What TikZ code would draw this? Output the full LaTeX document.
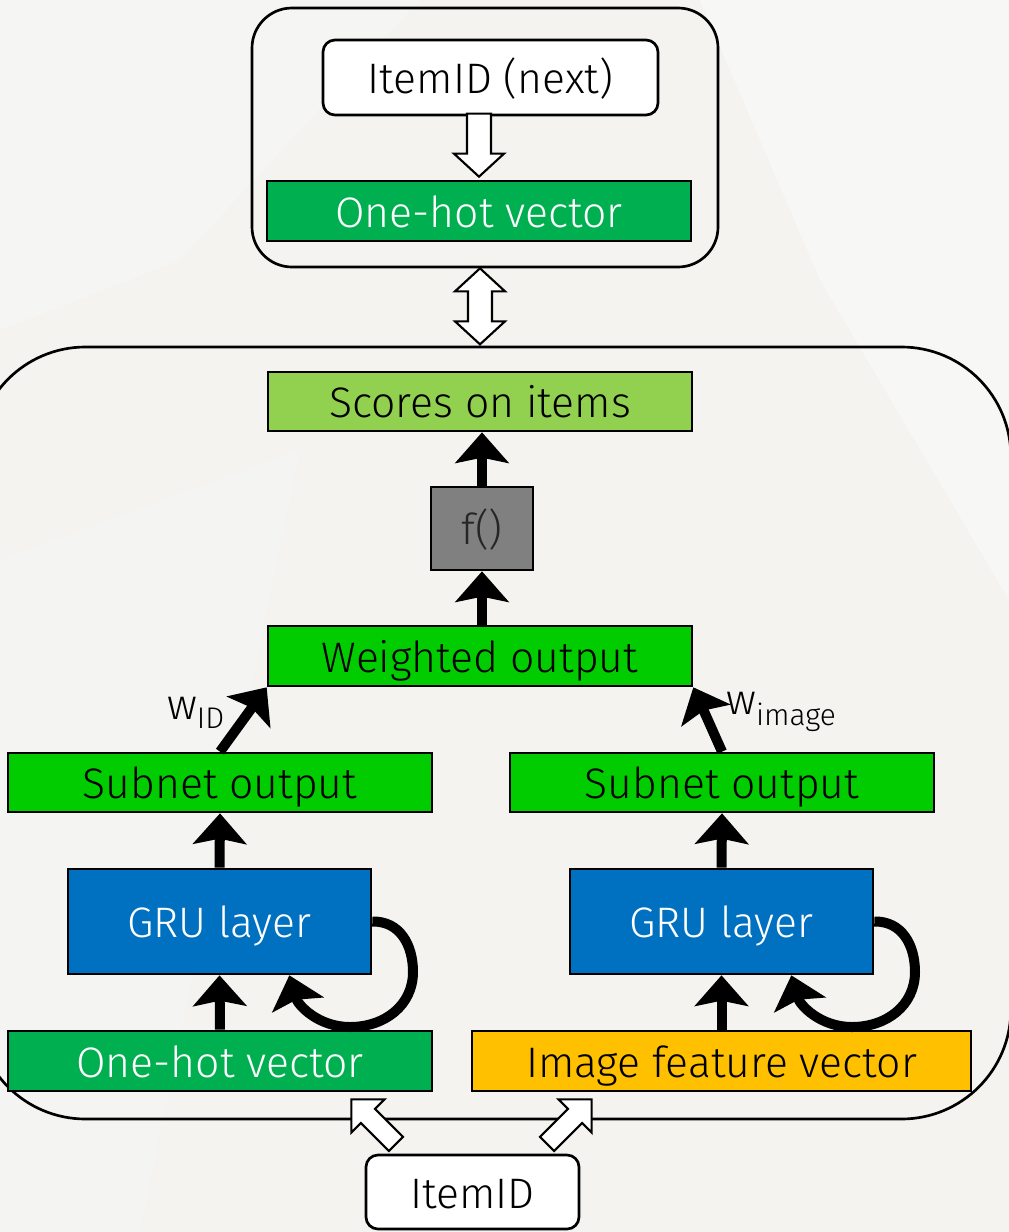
\documentclass[tikz,border=0pt]{standalone}
\usepackage{fontspec}
\setmainfont{Fira Sans Light}
\usetikzlibrary{arrows.meta,calc}
\definecolor{bgc}{RGB}{244,243,240}
\definecolor{ohgreen}{RGB}{0,176,80}
\definecolor{lgreen}{RGB}{146,208,80}
\definecolor{bgreen}{RGB}{0,204,0}
\definecolor{grublue}{RGB}{0,112,192}
\definecolor{imgyellow}{RGB}{255,192,0}
\definecolor{fgray}{RGB}{128,128,128}
\tikzset{
  box/.style={draw=black, line width=2pt, inner sep=0pt, text height=26pt, text depth=2pt, font=\fontsize{32}{38}\selectfont},
  rbox/.style={box, fill=white, rounded corners=9pt},
  wide/.style={minimum width=318pt, minimum height=45pt},
  flow/.style={line width=7.5pt, -{Stealth[length=23pt, width=40pt, inset=4pt]}},
  hollowline/.style={draw=black, fill=white, line width=1.6pt, line join=miter},
  lbl/.style={inner sep=0pt, font=\fontsize{32}{38}\selectfont},
  single hollow/.pic={\path[hollowline] (0,0) -- (-23,-25) -- (-23,-12) -- (-63,-12) -- (-63,12) -- (-23,12) -- (-23,25) -- cycle;},
  double hollow/.pic={\path[hollowline] (0,0) -- (23,-25) -- (23,-12) -- (53,-12) -- (53,-25) -- (76,0) -- (53,25) -- (53,12) -- (23,12) -- (23,25) -- cycle;},
  diag hollow/.pic={\path[hollowline] (0,0) -- (-23.5,-23.5) -- (-23.5,-10) -- (-63,-10) -- (-63,10) -- (-23.5,10) -- (-23.5,23.5) -- cycle;}
}
\begin{document}
\begin{tikzpicture}[x=0.75pt, y=-0.75pt]
\useasboundingbox (0,0) rectangle (1009,1232);
\fill[bgc] (0,0) rectangle (1009,1232);
\fill[black!3, opacity=0.6] (0,0) -- (420,0) -- (180,260) -- (0,330) -- cycle;
\fill[black!4, opacity=0.5] (0,560) -- (300,450) -- (140,1232) -- (0,1232) -- cycle;
\fill[white, opacity=0.35] (700,0) -- (1009,0) -- (1009,600) -- (820,280) -- cycle;

% containers
\node[draw=black, line width=2pt, rounded corners=82pt, minimum width=776pt, minimum height=579pt, inner sep=0pt] (outer) at (493.5,733) {};
\node[draw=black, line width=2pt, rounded corners=30pt, minimum width=349.5pt, minimum height=194.25pt, inner sep=0pt] (topbox) at (485,137.5) {};

% nodes
\node[rbox, minimum width=251.25pt, minimum height=56.25pt] (itemnext) at (490.5,77.5) {ItemID (next)};
\node[box, wide, fill=ohgreen, text=white] (onetop) at (479,211) {One-hot vector};
\node[box, wide, minimum height=44.25pt, fill=lgreen] (scores) at (480,401.5) {Scores on items};
\node[box, minimum width=76.5pt, minimum height=62.25pt, fill=fgray, text=black!85] (fx) at (482,528.5) {f()};
\node[box, wide, fill=bgreen] (weighted) at (480,656) {Weighted output};
\node[box, wide, minimum height=44.25pt, fill=bgreen] (subL) at (220,782.5) {Subnet output};
\node[box, wide, minimum height=44.25pt, fill=bgreen] (subR) at (722,782.5) {Subnet output};
\node[box, minimum width=227.25pt, minimum height=78.75pt, fill=grublue, text=white] (gruL) at (219.5,921.5) {GRU layer};
\node[box, minimum width=227.25pt, minimum height=78.75pt, fill=grublue, text=white] (gruR) at (721.5,921.5) {GRU layer};
\node[box, wide, fill=ohgreen, text=white] (ohL) at (220,1061) {One-hot vector};
\node[box, minimum width=374.25pt, minimum height=45pt, fill=imgyellow] (img) at (721.5,1061) {Image feature vector};
\node[rbox, minimum width=159.75pt, minimum height=55.5pt] (item) at (472.5,1192) {ItemID};

% hollow arrows
\pic[rotate=-90] at ($(onetop.north)+(0,-3)$) {single hollow};
\pic[rotate=-90] at ($(topbox.south)+(-5,0)$) {double hollow};
\pic[rotate=135] at ($(ohL.south east)+(-82,7)$) {diag hollow};
\pic[rotate=45] at ($(img.south west)+(121,7)$) {diag hollow};

% flow arrows
\draw[flow] (fx.north) -- (fx.north |- scores.south);
\draw[flow] (fx.south |- weighted.north) -- (fx.south);
\draw[flow] (subL.north) -- (weighted.south west);
\draw[flow] (subR.north) -- (weighted.south east);
\draw[flow] (gruL.north) -- (subL.south);
\draw[flow] (gruR.north) -- (subR.south);
\draw[flow] (ohL.north) -- (gruL.south);
\draw[flow] (img.north -| gruR.south) -- (gruR.south);

% recurrent loops
\coordinate (loopL) at ($(gruL.south east)+(-83,0)$);
\coordinate (loopR) at ($(gruR.south east)+(-83,0)$);
\draw[flow] (gruL.east) .. controls (400,921) and (413,945) .. (413,972) .. controls (413,1005) and (385,1027) .. (350,1027) .. controls (318,1027) and (298,1005) .. (loopL);
\draw[flow] (gruR.east) .. controls (902,921) and (915,945) .. (915,972) .. controls (915,1005) and (887,1027) .. (852,1027) .. controls (820,1027) and (800,1005) .. (loopR);

% weight labels
\node[lbl] (wid) at (196,713) {w\textsubscript{ID}};
\node[lbl, anchor=west] (wimg) at (726,712) {w\textsubscript{image}};
\end{tikzpicture}
\end{document}
